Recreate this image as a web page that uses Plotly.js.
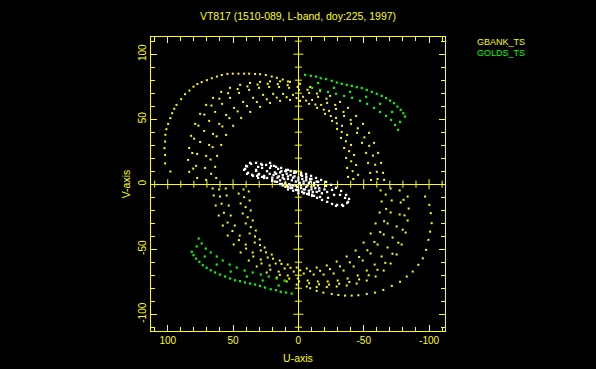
<!DOCTYPE html>
<html>
<head>
<meta charset="utf-8">
<script src="https://cdn.plot.ly/plotly-3.0.1.min.js"></script>
<style>html,body{margin:0;padding:0;background:#000;}#chart{width:596px;height:369px;}</style>
</head>
<body>
<div id="chart"></div>
<script>
// ---- Data: (u, v) samples ----
const titleText = "VT817 (1510-089, L-band, doy:225, 1997)";
const seriesNames = ["GBANK_TS", "GOLDS_TS"];
const axisTicks = [-100, -50, 0, 50, 100];

// GBANK_TS (yellow) – upper half
const gbankUpOuter = [[98,9.7],[102,16],[102,22.5],[102.5,27.7],[102,32.8],[101.8,38],[101,42.3],[99.7,46.4],[98,50.8],[96.6,54.6],[95,58],[93.3,61],[89.7,65.4],[86.7,69.2],[83.4,72],[80.3,75],[77.3,77],[74,78.5],[70,80],[66.3,81.5],[62.4,82.8],[58.6,84],[54.3,84.8],[50.2,85],[45.9,85],[41.5,85],[37.7,85],[33.1,84.8],[29.3,84.6],[24.9,84],[20.4,82.8],[16.5,81.8],[12,80.5],[8,79]];
const gbankUp1 = [[83.6,9.5],[84.4,18.7],[83.6,27.9],[82.1,37.2],[79.0,46.4],[75.2,54.1],[70.6,61.0],[65.3,66.4],[59.1,71.0],[52.3,74.1],[44.6,76.4],[37.0,77.9],[29.3,78.7],[21.7,79.1],[14.0,79.1],[6.4,78.7],[-1.3,77.2],[-9.0,74.8],[-16.6,71.8],[-24.3,67.9],[-31.9,63.3],[-38.0,58.7],[-44.2,52.5],[-49.5,46.4],[-54.1,39.5],[-57.9,31.8],[-61.0,24.1],[-63.3,16.4],[-64.8,8.7],[-65.6,3.3]];
const gbankUp5 = [[80.5,12],[81.2,24],[79.8,35],[76.5,45],[72.0,53.5],[66.5,60.5],[60.5,65.8],[53.8,70],[46.5,73.2],[39,75.2],[31.2,76.6],[23.5,77.2],[15.8,77.0],[8.2,76.2],[0.6,74.8],[-7,72.6],[-14.2,69.7],[-21.5,65.8],[-28.2,61],[-34.5,55.6],[-40,49.5],[-45.5,43],[-50.5,36],[-54.2,29.5],[-57,22],[-58.8,15],[-60,9.5],[-60.6,4]];
const gbankUp2 = [[77.5,4.8],[78.3,14.1],[77.5,23.3],[75.2,32.5],[72.1,41.0],[68.3,48.7],[63.7,55.6],[58.4,61.8],[52.3,66.4],[45.4,70.2],[37.7,72.5],[30.1,74.1],[22.4,74.8],[14.8,74.8],[7.1,74.1],[-0.5,72.5],[-8.2,70.2],[-15.1,67.2],[-22.0,62.5],[-28.8,57.9],[-35.0,52.5],[-40.3,46.4],[-44.9,39.5],[-48.7,31.8],[-51.8,24.1],[-53.3,16.4],[-54.9,8.7],[-55.6,3.3]];
const gbankUp3 = [[70.6,3.3],[71.4,12.5],[70.6,21.8],[68.3,30.2],[65.3,38.7],[60.6,46.4],[55.3,53.3],[49.2,58.7],[42.3,63.3],[34.6,66.4],[27.0,68.7],[19.3,69.5],[11.7,69.5],[4.1,68.7],[-3.6,67.2],[-10.5,64.8],[-17.4,61.0],[-23.5,56.4],[-28.8,51.0],[-33.4,44.9],[-37.3,37.9],[-40.3,30.2],[-42.6,22.5],[-44.2,14.8],[-45.7,7.2]];
const gbankUp6 = [[66.8,8],[67.2,19],[65.6,28.5],[62.6,36.8],[58.2,44.4],[52.8,50.8],[46.5,56],[39.4,60.1],[31.8,63.2],[24.2,65.3],[16.6,66.6],[9,66.9],[1.4,66.2],[-6,64.3],[-13,61.3],[-19.4,57.3],[-24.8,52.4],[-29.4,46.8],[-33.2,40.2],[-36.4,33],[-38.8,25.4],[-40.4,17.6],[-41.5,10],[-42,4]];
const gbankUp4 = [[62.9,4.8],[63.7,13.3],[62.2,21.8],[59.1,30.2],[55.3,37.9],[49.9,44.9],[43.8,51.0],[36.9,55.6],[29.3,59.5],[21.7,62.5],[14.0,64.1],[6.4,64.8],[-1.3,64.1],[-8.2,61.8],[-14.3,58.7],[-20.4,54.1],[-25.8,48.7],[-29.6,42.5],[-32.6,35.6],[-35.0,27.9],[-36.5,20.2],[-37.3,12.5],[-38.0,5.6]];

// GBANK_TS (yellow) – lower half
const gbankLoOuter = [[-97,-9.5],[-100.2,-15.9],[-101.3,-22.3],[-102,-30],[-100.8,-36.5],[-99.5,-42.8],[-97.7,-50.5],[-95.2,-57],[-91.8,-62],[-87.5,-67.2],[-82.9,-71],[-77.8,-75],[-71.5,-78.2],[-65,-81.3],[-58.7,-83.4],[-52.3,-84.4],[-45.9,-85.4],[-40.8,-85.7],[-35.7,-85.7],[-30.6,-85.2],[-25.5,-84.4],[-19.1,-83.4],[-14,-82],[-9,-80]];
const gbankLo1 = [[-83.6,-9.5],[-84.4,-18.7],[-83.6,-27.9],[-82.1,-37.2],[-79.0,-46.4],[-75.2,-54.1],[-70.6,-61.0],[-65.3,-66.4],[-59.1,-71.0],[-52.3,-74.1],[-44.6,-76.4],[-37.0,-77.9],[-29.3,-78.7],[-21.7,-79.1],[-14.0,-79.1],[-6.4,-78.7],[1.3,-77.2],[9.0,-74.8],[16.6,-71.8],[24.3,-67.9],[31.9,-63.3],[38.0,-58.7],[44.2,-52.5],[49.5,-46.4],[54.1,-39.5],[57.9,-31.8],[61.0,-24.1],[63.3,-16.4],[64.8,-8.7],[65.6,-3.3]];
const gbankLo5 = [[-80.5,-12],[-81.2,-24],[-79.8,-35],[-76.5,-45],[-72.0,-53.5],[-66.5,-60.5],[-60.5,-65.8],[-53.8,-70],[-46.5,-73.2],[-39,-75.2],[-31.2,-76.6],[-23.5,-77.2],[-15.8,-77.0],[-8.2,-76.2],[-0.6,-74.8],[7,-72.6],[14.2,-69.7],[21.5,-65.8],[28.2,-61],[34.5,-55.6],[40,-49.5],[45.5,-43],[50.5,-36],[54.2,-29.5],[57,-22],[58.8,-15],[60,-9.5],[60.6,-4]];
const gbankLo2 = [[-77.5,-4.8],[-78.3,-14.1],[-77.5,-23.3],[-75.2,-32.5],[-72.1,-41.0],[-68.3,-48.7],[-63.7,-55.6],[-58.4,-61.8],[-52.3,-66.4],[-45.4,-70.2],[-37.7,-72.5],[-30.1,-74.1],[-22.4,-74.8],[-14.8,-74.8],[-7.1,-74.1],[0.5,-72.5],[8.2,-70.2],[15.1,-67.2],[22.0,-62.5],[28.8,-57.9],[35.0,-52.5],[40.3,-46.4],[44.9,-39.5],[48.7,-31.8],[51.8,-24.1],[53.3,-16.4],[54.9,-8.7],[55.6,-3.3]];
const gbankLo3 = [[-70.6,-3.3],[-71.4,-12.5],[-70.6,-21.8],[-68.3,-30.2],[-65.3,-38.7],[-60.6,-46.4],[-55.3,-53.3],[-49.2,-58.7],[-42.3,-63.3],[-34.6,-66.4],[-27.0,-68.7],[-19.3,-69.5],[-11.7,-69.5],[-4.1,-68.7],[3.6,-67.2],[10.5,-64.8],[17.4,-61.0],[23.5,-56.4],[28.8,-51.0],[33.4,-44.9],[37.3,-37.9],[40.3,-30.2],[42.6,-22.5],[44.2,-14.8],[45.7,-7.2]];
const gbankLo6 = [[-66.8,-8],[-67.2,-19],[-65.6,-28.5],[-62.6,-36.8],[-58.2,-44.4],[-52.8,-50.8],[-46.5,-56],[-39.4,-60.1],[-31.8,-63.2],[-24.2,-65.3],[-16.6,-66.6],[-9,-66.9],[-1.4,-66.2],[6,-64.3],[13,-61.3],[19.4,-57.3],[24.8,-52.4],[29.4,-46.8],[33.2,-40.2],[36.4,-33],[38.8,-25.4],[40.4,-17.6],[41.5,-10],[42,-4]];
const gbankLo4 = [[-62.9,-4.8],[-63.7,-13.3],[-62.2,-21.8],[-59.1,-30.2],[-55.3,-37.9],[-49.9,-44.9],[-43.8,-51.0],[-36.9,-55.6],[-29.3,-59.5],[-21.7,-62.5],[-14.0,-64.1],[-6.4,-64.8],[1.3,-64.1],[8.2,-61.8],[14.3,-58.7],[20.4,-54.1],[25.8,-48.7],[29.6,-42.5],[32.6,-35.6],[35.0,-27.9],[36.5,-20.2],[37.3,-12.5],[38.0,-5.6]];

// GOLDS_TS (green)
const goldsUp1 = [[-5.1,84.1],[-9.5,83.3],[-13.5,82.8],[-17.1,81.5],[-21.2,80.8],[-25.6,79.5],[-29.4,78.2],[-33.2,77.2],[-37.0,76.4],[-40.9,75.6],[-44.7,74.6],[-48.5,73.9],[-52.3,72.5],[-56.2,71.0],[-60.0,69.5],[-63.8,67.9],[-67.1,66.2],[-70.2,64.3],[-73.2,62.3],[-75.8,59.7],[-78.3,57.2],[-80.3,54.6],[-81.6,52.0]];
const goldsUp2 = [[-10.5,74.1],[-16.6,72.5],[-22.7,71.0],[-28.8,69.5],[-35.0,67.9],[-41.1,66.4],[-47.2,64.1],[-52.6,61.8],[-57.9,58.7],[-62.5,55.6],[-67.1,52.5],[-70.9,49.5],[-74.0,45.6],[-76.3,41.8]];
const goldsUp3 = [[-15.1,77.9],[-27.3,74.1],[-39.5,71.0],[-51.8,67.2],[-62.5,61.8],[-71.7,55.6],[-77.8,47.9]];
const goldsLo1 = [[5.1,-84.1],[9.5,-83.3],[13.5,-82.8],[17.1,-81.5],[21.2,-80.8],[25.6,-79.5],[29.4,-78.2],[33.2,-77.2],[37.0,-76.4],[40.9,-75.6],[44.7,-74.6],[48.5,-73.9],[52.3,-72.5],[56.2,-71.0],[60.0,-69.5],[63.8,-67.9],[67.1,-66.2],[70.2,-64.3],[73.2,-62.3],[75.8,-59.7],[78.3,-57.2],[80.3,-54.6],[81.6,-52.0]];
const goldsLo2 = [[10.5,-74.1],[16.6,-72.5],[22.7,-71.0],[28.8,-69.5],[35.0,-67.9],[41.1,-66.4],[47.2,-64.1],[52.6,-61.8],[57.9,-58.7],[62.5,-55.6],[67.1,-52.5],[70.9,-49.5],[74.0,-45.6],[76.3,-41.8]];
const goldsLo3 = [[15.1,-77.9],[27.3,-74.1],[39.5,-71.0],[51.8,-67.2],[62.5,-61.8],[71.7,-55.6],[77.8,-47.9]];

// short ground baselines (white)
const whiteRing1 = [[40.8,11.8],[39.3,13.7],[36.2,15.6],[32.4,16.4],[28.5,15.6],[24.7,14.8],[20.9,14.1],[17.1,13.3],[13.2,12.5],[9.4,11.0],[5.6,10.2],[1.8,9.5],[-2.1,8.7],[-5.9,7.9],[-9.7,6.4],[-13.5,4.8],[-17.4,3.3],[-21.2,1.8],[-25.0,-0.5],[-28.8,-2.8],[-32.7,-5.2],[-36.5,-8.2],[-38.8,-11.3],[-37.3,-14.4],[-33.4,-15.9],[-29.6,-15.9],[-25.8,-15.2],[-22.0,-13.6],[-18.1,-12.1],[-14.3,-10.5],[-10.5,-9.0],[-6.7,-7.5],[-2.8,-5.9],[1.0,-4.4],[4.8,-2.8],[8.6,-1.3],[12.5,0.2],[16.3,1.8],[20.1,3.3],[23.9,4.8],[27.8,5.6],[31.6,6.4],[35.4,7.2],[38.5,8.7]];
const whiteRing2 = [[32.4,11],[27.8,12.5],[21.7,12.5],[15.5,11.8],[9.4,10.2],[3.3,8.7],[-2.8,6.4],[-9.0,4.1],[-15.1,1.8],[-21.2,-1.3],[-25.8,-4.4],[-27.3,-8.2],[-22.7,-10.5],[-16.6,-9.8],[-10.5,-8.2],[-4.4,-6.7],[1.8,-4.4],[7.9,-2.1],[14.0,0.2],[20.1,2.5],[26.2,4.8],[30.8,7.2]];
const whiteRing3 = [[37.0,16.4],[40.0,14.1],[41.6,11.0],[39.3,7.9],[34.7,6.4],[30.8,4.8],[27.8,14.8],[30.8,13.3],[32.4,10.2],[30.1,7.9],[26.2,6.4],[21.7,16.4],[18.6,14.1],[-31.9,-8.2],[-35.7,-10.5],[-38.0,-13.6],[-34.2,-16.7],[-28.8,-16.7]];
const whiteCore = [[15,6],[12,7],[9,8],[6,7],[3,6],[0,5],[-3,4],[-6,3],[-9,2],[-12,1],[14,3],[11,4],[8,4],[5,3],[2,2],[-1,1],[-4,0],[-7,-1],[-10,-2],[-13,-3],[10,1],[7,0],[4,-1],[1,-2],[-2,-3],[-5,-4],[-8,-5],[-11,-6],[17,8],[13,10],[8,11],[3,10],[-2,8],[-6,6],[18,2],[0,-5],[-4,-7],[-8,-8],[20,5],[-15,-1],[6,-3],[12,-1],[-16,-5],
  [18,9],[14,9],[10,10],[6,10],[2,9],[-2,7],[-6,5],[-10,4],[-14,2],[16,5],[12,5],[8,6],[4,5],[0,3],[-4,2],[-8,1],[-12,-1],[-16,-3],[14,0],[10,-2],[6,-1],[2,-1],[-2,-1],[-6,-2],[-10,-4],[-14,-6],[-18,-7],[8,-4],[4,-5],[0,-7],[-4,-4],[-8,-7],[-12,-9],[19,7],[-20,-4],[22,8],[24,10],[-22,-6]];

// ---- Build traces ----
const FONT = "Liberation Sans, Arial, sans-serif";
function dots(pts, color, size) {
  return {
    type: "scatter", mode: "markers",
    x: pts.map(p => p[0]), y: pts.map(p => p[1]),
    marker: {color: color, size: size, symbol: "square", line: {width: 0}},
    showlegend: false, hoverinfo: "skip"
  };
}
const YEL = "#ffff00", GRN = "#00ff00", WHT = "#ffffff";
const traces = [];
[gbankUpOuter, gbankUp1, gbankUp5, gbankUp2, gbankUp3, gbankUp6, gbankUp4,
 gbankLoOuter, gbankLo1, gbankLo5, gbankLo2, gbankLo3, gbankLo6, gbankLo4].forEach(a => traces.push(dots(a, YEL, 2)));
[goldsUp1, goldsUp2, goldsUp3, goldsLo1, goldsLo2, goldsLo3].forEach(a => traces.push(dots(a, GRN, 2.2)));
[whiteRing1, whiteRing2, whiteRing3, whiteCore].forEach(a => traces.push(dots(a, WHT, 2.3)));

// ticks drawn across the zero lines
const shapes = [];
for (let t = -110; t <= 110; t += 10) {
  if (t === 0) continue;
  const len = (t % 50 === 0) ? 5 : 3.5;
  shapes.push({type: "line", xref: "x", yref: "y", x0: t, x1: t, ysizemode: "pixel", yanchor: 0, y0: -len, y1: len, line: {color: YEL, width: 1}});
  shapes.push({type: "line", xref: "x", yref: "y", y0: t, y1: t, xsizemode: "pixel", xanchor: 0, x0: -len, x1: len, line: {color: YEL, width: 1}});
}

const axisCommon = {
  showgrid: false, zeroline: true, zerolinecolor: YEL, zerolinewidth: 1,
  showline: true, linecolor: YEL, linewidth: 1, mirror: "ticks",
  ticks: "inside", ticklen: 6, tickcolor: YEL, tickwidth: 1,
  tickvals: axisTicks, ticktext: axisTicks.map(String),
  tickfont: {color: YEL, size: 10, family: FONT},
  minor: {dtick: 10, tick0: 0, ticks: "inside", ticklen: 4, tickcolor: YEL, tickwidth: 1, showgrid: false},
  fixedrange: true
};

const layout = {
  width: 596, height: 369,
  paper_bgcolor: "#000", plot_bgcolor: "#000",
  margin: {l: 151, r: 151, t: 37, b: 38, pad: 0},
  title: {text: titleText, font: {color: YEL, size: 10.5, family: FONT}, x: 0.5, xanchor: "center", xref: "container", y: 0.957, yanchor: "middle", yref: "container"},
  xaxis: Object.assign({}, axisCommon, {range: [112.8, -112.2], title: {text: "U-axis", font: {color: YEL, size: 10.5, family: FONT}, standoff: 9}}),
  yaxis: Object.assign({}, axisCommon, {range: [-112.9, 113.2], tickangle: -90, title: {text: "V-axis", font: {color: YEL, size: 10.5, family: FONT}, standoff: 4}}),
  showlegend: false,
  shapes: shapes,
  annotations: [
    {text: seriesNames[0], xref: "paper", yref: "paper", x: 1.102, y: 0.983, xanchor: "left", yanchor: "middle", showarrow: false, font: {color: YEL, size: 9, family: FONT}},
    {text: seriesNames[1], xref: "paper", yref: "paper", x: 1.102, y: 0.946, xanchor: "left", yanchor: "middle", showarrow: false, font: {color: GRN, size: 9, family: FONT}}
  ]
};

Plotly.newPlot("chart", traces, layout, {displayModeBar: false, staticPlot: true});
</script>
</body>
</html>
